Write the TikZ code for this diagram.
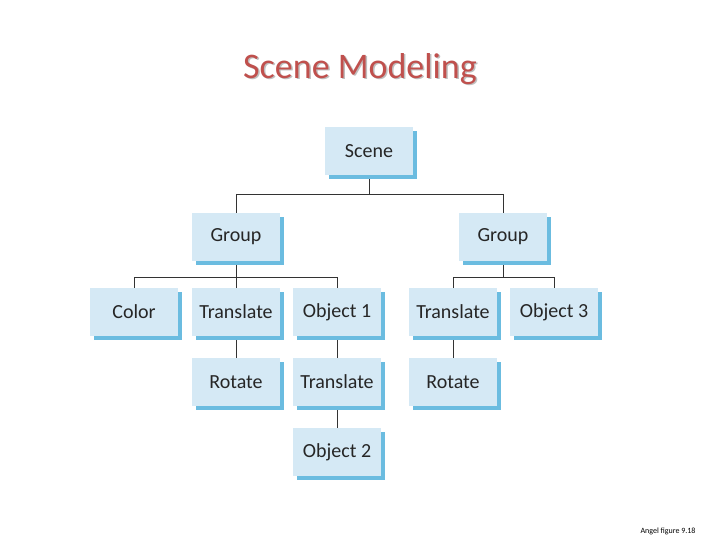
\documentclass[tikz,border=0pt]{standalone}
\usepackage{fontspec}
\setmainfont{Carlito}
\usetikzlibrary{shadows}
\definecolor{boxfill}{HTML}{D5E9F5}
\definecolor{boxshadow}{HTML}{6BBCE0}
\definecolor{titlered}{HTML}{C0504D}
\begin{document}
\begin{tikzpicture}[x=1pt,y=-1pt,
  bx/.style={fill=boxfill, minimum width=88pt, minimum height=48pt, inner sep=0pt,
    font=\fontsize{20}{22}\selectfont, text=black!85,
    drop shadow={shadow xshift=4pt, shadow yshift=-4pt, fill=boxshadow, opacity=1}},
  ln/.style={draw=black!80, line width=0.8pt}]
\useasboundingbox (0,0) rectangle (720,540);
\node[font=\fontsize{36}{40}\selectfont, text=black!25] (ts) at (361.5,70.5) {Scene Modeling};
\node[font=\fontsize{36}{40}\selectfont, text=titlered] (title) at (360,69) {Scene Modeling};
\node[font=\fontsize{8}{9}\selectfont] (foot) at (668,531) {Angel figure 9.18};
% connectors first
\coordinate (sb) at (369,194);
\coordinate (gl) at (134,277);
\coordinate (gr) at (453,277);
\coordinate (gl2) at (337,277);
\coordinate (gr2) at (554,277);
\draw[ln] (369,151) -- (sb);
\draw[ln] (236,194) -- (503,194);
\draw[ln] (236,194) -- (236,237);
\draw[ln] (503,194) -- (503,237);
\draw[ln] (134,277) -- (337,277);
\draw[ln] (453,277) -- (554,277);
\draw[ln] (236,237) -- (236,382);
\draw[ln] (134,277) -- (134,312);
\draw[ln] (337,277) -- (337,452);
\draw[ln] (503,237) -- (503,277);
\draw[ln] (453,277) -- (453,382);
\draw[ln] (554,277) -- (554,312);
% boxes
\node[bx] (scene) at (369,151) {Scene};
\node[bx] (g1) at (236,237) {Group};
\node[bx] (g2) at (503,237) {Group};
\node[bx] (color) at (134,312) {Color};
\node[bx] (t1) at (236,312) {Translate};
\node[bx] (o1) at (337,312) {Object 1};
\node[bx] (t3) at (453,312) {Translate};
\node[bx] (o3) at (554,312) {Object 3};
\node[bx] (r1) at (236,382) {Rotate};
\node[bx] (t2) at (337,382) {Translate};
\node[bx] (r2) at (453,382) {Rotate};
\node[bx] (o2) at (337,452) {Object 2};
\end{tikzpicture}
\end{document}
